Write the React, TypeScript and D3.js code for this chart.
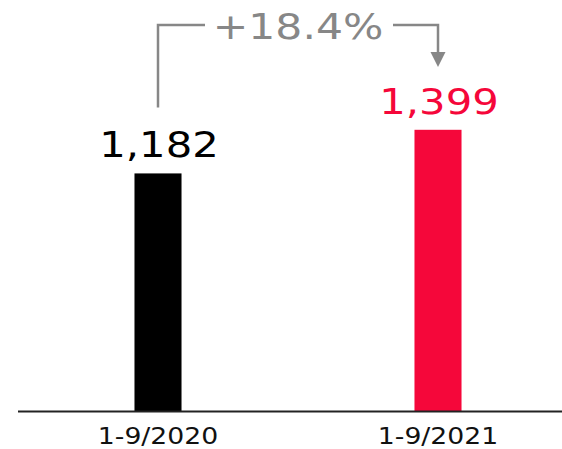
import React from "react";
import * as d3 from "d3";

const categories = ["1-9/2020", "1-9/2021"];
const values = [1182, 1399];
const valueLabels = ["1,182", "1,399"];
const changeLabel = "+18.4%";
const barColors = ["#000000", "#f5073a"];

const W = 562;
const H = 449;
const FONT = "'DejaVu Sans', Verdana, sans-serif";
const STRETCH = 1.16;

export default function App() {
  const x = d3
    .scaleBand<string>()
    .domain(categories)
    .range([18, 578])
    .paddingInner(0.832)
    .paddingOuter(0.416);
  const y = d3.scaleLinear().domain([0, 1400]).range([411, 129.6]);
  const bw = x.bandwidth();
  const cx = (c: string) => (x(c) as number) + bw / 2;

  const x1 = cx(categories[0]);
  const x2 = cx(categories[1]);
  const midX = (x1 + x2) / 2;
  const topY = 25;
  const gray = "#878787";

  return (
    <svg
      width={W}
      height={H}
      style={{ position: "absolute", left: 0, top: 0, background: "#fff" }}
    >
      {categories.map((c, i) => (
        <rect
          key={c}
          x={x(c)}
          y={y(values[i])}
          width={bw}
          height={y(0) - y(values[i])}
          fill={barColors[i]}
        />
      ))}
      <line x1={18} x2={W} y1={y(0) + 0.5} y2={y(0) + 0.5} stroke="#222" strokeWidth={2} />
      {categories.map((c) => (
        <text
          key={c + "l"}
          transform={`translate(${cx(c)},444) scale(${STRETCH},1)`}
          textAnchor="middle"
          fontFamily={FONT}
          fontSize={23}
          fill="#111"
        >
          {c}
        </text>
      ))}
      {categories.map((c, i) => (
        <text
          key={c + "v"}
          transform={`translate(${cx(c) + 1},${y(values[i]) - 16}) scale(${STRETCH},1)`}
          textAnchor="middle"
          fontFamily={FONT}
          fontSize={36}
          fill={barColors[i]}
        >
          {valueLabels[i]}
        </text>
      ))}
      <path
        d={`M${x1},${y(values[0]) - 66} V${topY} H${midX - 93}`}
        fill="none"
        stroke={gray}
        strokeWidth={2.5}
      />
      <path
        d={`M${midX + 95},${topY} H${x2} V${53}`}
        fill="none"
        stroke={gray}
        strokeWidth={2.5}
      />
      <path
        d={`M${x2 - 7.5},${52} L${x2 + 7.5},${52} L${x2},${67} Z`}
        fill={gray}
      />
      <text
        transform={`translate(${midX},39) scale(${STRETCH + 0.02},1)`}
        textAnchor="middle"
        fontFamily={FONT}
        fontSize={36}
        fill={gray}
      >
        {changeLabel}
      </text>
    </svg>
  );
}
